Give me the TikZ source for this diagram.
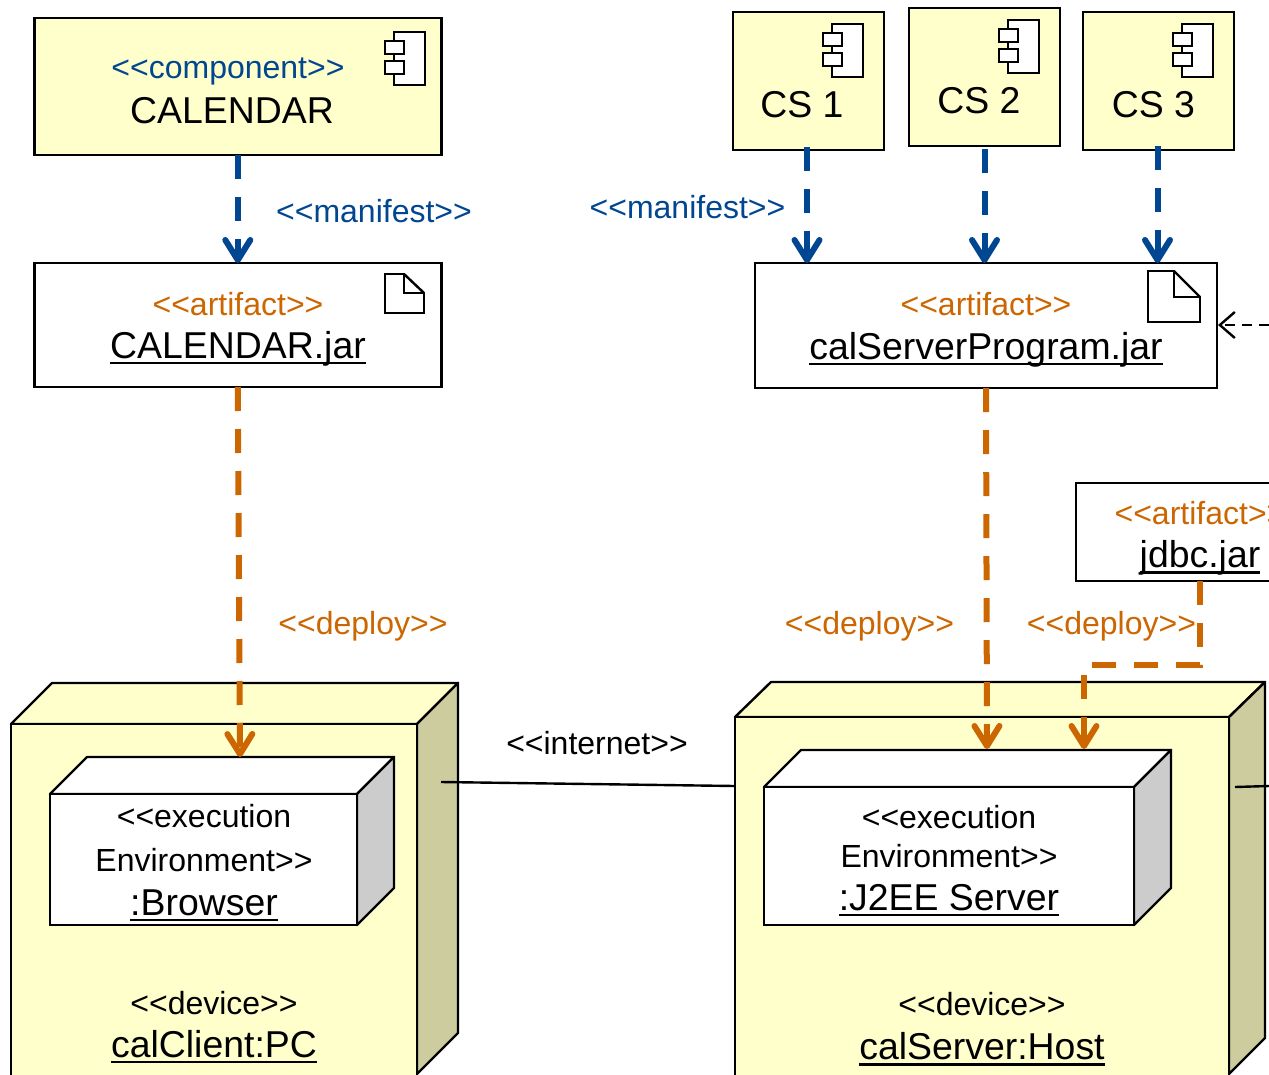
\documentclass[tikz,border=0pt]{standalone}
\usepackage{fontspec}
\usetikzlibrary{arrows.meta}
\newfontfamily\af{Liberation Sans}
\definecolor{uyel}{HTML}{FFFFCC}
\definecolor{uside}{HTML}{CCCC9E}
\definecolor{ugrey}{HTML}{CCCCCC}
\definecolor{ublue}{HTML}{004690}
\definecolor{uorg}{HTML}{CC6600}
\newcommand\uln[1]{\setbox0=\hbox{#1}\rlap{\vrule width\wd0 height -3.5pt depth 6pt}\box0}
\newcommand\compicon[2]{%
  \draw[iconline,fill=white] (#1+9,#2-9) rectangle (#1+40,#2+44);
  \draw[iconline,fill=white] (#1,#2) rectangle (#1+19,#2+13);
  \draw[iconline,fill=white] (#1,#2+20) rectangle (#1+19,#2+33);}
\newcommand\arficon[5]{% x1 y1 x2 y2 fold
  \draw[iconline,fill=white] (#1,#2) -| (#1+#5,#2+#5) -- (#3,#2+#5) |- (#1,#4) -- cycle;
  \draw[iconline] (#1+#5,#2) -- (#3,#2+#5);}
\tikzset{
  box/.style={draw=black,line width=2.4pt,inner sep=0pt,outer sep=0pt,rectangle},
  ybox/.style={box,fill=uyel},
  wbox/.style={box,fill=white},
  face/.style={draw=black,line width=2.4pt,line join=round},
  iconline/.style={draw=black,line width=2.4pt,line join=miter},
  big/.style={anchor=base,inner sep=0pt,outer sep=0pt,font=\af\fontsize{37.4}{37.4}\selectfont,text=black},
  small/.style={anchor=base,inner sep=0pt,outer sep=0pt,font=\af\fontsize{32}{32}\selectfont,text=black},
  bluetxt/.style={small,text=ublue},
  orgtxt/.style={small,text=uorg},
  dep/.style={line width=6pt,dash pattern=on 24pt off 18pt,
    -{Straight Barb[length=20pt,width=25pt,line width=6pt,round]}},
  manif/.style={dep,draw=ublue},
  depl/.style={dep,draw=uorg},
  thinlink/.style={draw=black,line width=2.4pt},
  usedep/.style={draw=black,line width=2.4pt,dash pattern=on 10pt off 7pt,
    -{Straight Barb[length=15pt,width=26pt,line width=2.4pt]}}
}
\begin{document}
\begin{tikzpicture}[x=1pt,y=-1pt]
\useasboundingbox (0,0) rectangle (1269,1074);
\clip (0,0) rectangle (1269,1074);
% device PC
\draw[face,fill=uyel] (11,724) -- (52,683) -- (458,683) -- (417,724) -- cycle;
\draw[face,fill=uside] (417,724) -- (458,683) -- (458,1033) -- (417,1074) -- cycle;
\node[ybox,minimum width=406pt,minimum height=396pt] (pc) at (214,922) {};
% device Server
\draw[face,fill=uyel] (735,717) -- (771,682) -- (1265,682) -- (1229,717) -- cycle;
\draw[face,fill=uside] (1229,717) -- (1265,682) -- (1265,1038) -- (1229,1074) -- cycle;
\node[ybox,minimum width=494pt,minimum height=403pt] (srv) at (982,918.5) {};
% execution env Browser
\draw[face,fill=white] (50,794) -- (87,757) -- (394,757) -- (357,794) -- cycle;
\draw[face,fill=ugrey] (357,794) -- (394,757) -- (394,888) -- (357,925) -- cycle;
\node[wbox,minimum width=307pt,minimum height=131pt] (brw) at (203.5,859.5) {};
% execution env J2EE
\draw[face,fill=white] (764,787) -- (801,750) -- (1171,750) -- (1134,787) -- cycle;
\draw[face,fill=ugrey] (1134,787) -- (1171,750) -- (1171,888) -- (1134,925) -- cycle;
\node[wbox,minimum width=370pt,minimum height=138pt] (jee) at (949,856) {};
% components
\node[ybox,minimum width=407pt,minimum height=137pt] (cal) at (237.8,86.5) {};
\node[ybox,minimum width=151pt,minimum height=138pt] (cs1) at (808.5,81) {};
\node[ybox,minimum width=151pt,minimum height=138pt] (cs2) at (984.5,77) {};
\node[ybox,minimum width=151pt,minimum height=138pt] (cs3) at (1158.5,81) {};
% artifacts
\node[wbox,minimum width=407pt,minimum height=124pt] (calj) at (237.8,325) {};
\node[wbox,minimum width=462pt,minimum height=125pt] (sjar) at (986,325.5) {};
\node[wbox,minimum width=248pt,minimum height=98pt] (jdbc) at (1200,532) {};
% icons
\compicon{385}{41}
\compicon{823}{33}
\compicon{999}{29}
\compicon{1173}{33}
\arficon{385}{274}{424}{313}{19}
\arficon{1148}{271}{1200}{322}{26}
% anchors for connector ends
\coordinate (brwTop) at (240,757);
\coordinate (jeeTopA) at (987,749);
\coordinate (jeeTopB) at (1084,749);
\coordinate (turnA) at (1200,665);
\coordinate (turnB) at (1084,665);
\coordinate (pcEdge) at (441,782);
\coordinate (srvEdge) at (735,786);
\coordinate (srvOutA) at (1235,787);
\coordinate (srvOutB) at (1269,786);
\coordinate (useFar) at (1269,325);
\coordinate (sjarEast) at (1218,325);
% connectors
\draw[manif] (cal.south) -- (calj.north);
\draw[manif] ([xshift=-1.5pt,yshift=3pt]cs1.south) -- ([xshift=-1.5pt]cs1.south |- sjar.north);
\draw[manif] ([yshift=-3pt]cs2.south) -- (cs2.south |- sjar.north);
\draw[manif] ([xshift=-1pt,yshift=4pt]cs3.south) -- ([xshift=-1pt]cs3.south |- sjar.north);
\draw[depl] (calj.south) -- (brwTop);
\draw[depl] (sjar.south) -- (jeeTopA);
\draw[depl] (jdbc.south) -- (turnA) -- (turnB) -- (jeeTopB);
\draw[thinlink] (pcEdge) -- (srvEdge);
\draw[thinlink] (srvOutA) -- (srvOutB);
\draw[usedep] (useFar) -- (sjarEast);
% labels
\node[bluetxt] (t1) at (228,78.5) {<<component>>};
\node[big] (t2) at (232,123) {CALENDAR};
\node[big] (t3) at (802,117) {CS 1};
\node[big] (t4) at (979,113) {CS 2};
\node[big] (t5) at (1153.5,117) {CS 3};
\node[bluetxt] (t6) at (374,222) {<<manifest>>};
\node[bluetxt] (t7) at (687.5,218) {<<manifest>>};
\node[orgtxt] (t8) at (238,315.5) {<<artifact>>};
\node[big] (t9) at (238,358) {\uln{CALENDAR.jar}};
\node[orgtxt] (t10) at (986,315.5) {<<artifact>>};
\node[big] (t11) at (986,359) {\uln{calServerProgram.jar}};
\node[orgtxt] (t12) at (1200,524) {<<artifact>>};
\node[big] (t13) at (1200,567.5) {\uln{jdbc.jar}};
\node[orgtxt] (t14) at (363,634) {<<deploy>>};
\node[orgtxt] (t15) at (869.5,634) {<<deploy>>};
\node[orgtxt] (t16) at (1111.5,634) {<<deploy>>};
\node[small] (t17) at (597,754) {<<internet>>};
\node[small] (t18) at (204,827) {<<execution};
\node[small] (t19) at (204,871) {Environment>>};
\node[big] (t20) at (204,915) {\uln{:Browser}};
\node[small] (t21) at (949,828) {<<execution};
\node[small] (t22) at (949,867) {Environment>>};
\node[big] (t23) at (949,910) {\uln{:J2EE Server}};
\node[small] (t24) at (214,1014) {<<device>>};
\node[big] (t25) at (214,1057) {\uln{calClient:PC}};
\node[small] (t26) at (982,1015.5) {<<device>>};
\node[big] (t27) at (982,1059.5) {\uln{calServer:Host}};
\end{tikzpicture}
\end{document}
